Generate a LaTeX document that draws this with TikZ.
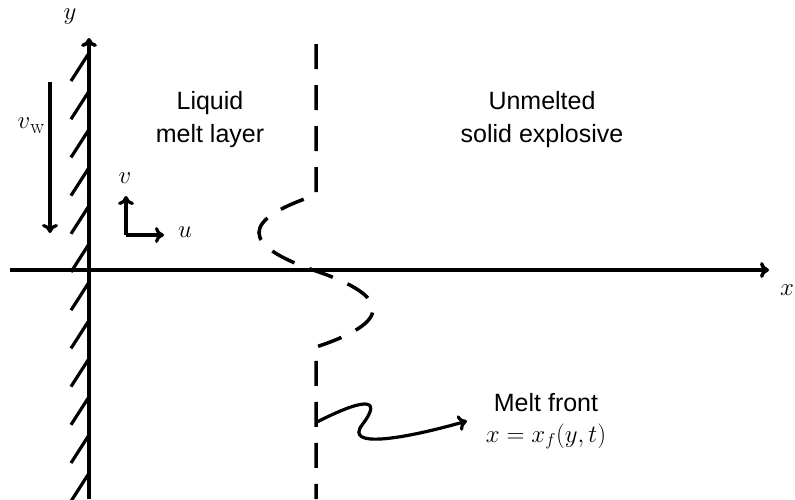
\documentclass[tikz,border=0pt]{standalone}
\usepackage[no-math]{fontspec}
\setmainfont{Liberation Sans}
\usetikzlibrary{arrows.meta}
\begin{document}
\begin{tikzpicture}[x=1pt,y=-1pt,
  arr/.style={line width=3.2pt,-{To[length=9pt,width=16pt]}},
  lbl/.style={font=\fontsize{25}{33}\selectfont,inner sep=0pt,align=center},
  mlbl/.style={font=\fontsize{25}{33}\selectfont,inner sep=0pt}]
\useasboundingbox (0,0) rectangle (795,499);
% coordinates
\coordinate (wallbot) at (89,499);
\coordinate (walltop) at (89,38);
\coordinate (xleft) at (10,270);
\coordinate (xright) at (769,270);
% hatching
\foreach \k in {0,...,11}
  \draw[line width=3.2pt] (89,53+38.2*\k) -- ++(-18,28);
% axes
\draw[arr,line width=3.5pt] (wallbot) -- (walltop);
\draw[arr,line width=3.5pt] (xleft) -- (xright);
\node[mlbl] (ylab) at (70,17) {$y$};
\node[mlbl] (xlab) at (787,290) {$x$};
% wall velocity
\coordinate (vwtop) at (50,82);
\coordinate (vwbot) at (50,233);
\draw[arr] (vwtop) -- (vwbot);
\node[mlbl] (vwlab) at (31,126) {$v$\raisebox{-5pt}{\fontsize{20}{20}\selectfont$\mathrm{w}$}};
% small u v axes
\coordinate (uvO) at (126,235);
\coordinate (vtip) at (126,196);
\coordinate (utip) at (164,235);
\draw[arr] (uvO) -- (vtip);
\draw[arr] (uvO) -- (utip);
\node[mlbl] (vlab) at (125,178) {$v$};
\node[mlbl] (ulab) at (185,232) {$u$};
% region labels
\node[lbl] (liquid) at (210,120) {Liquid\\melt layer};
\node[lbl] (solid) at (542,120) {Unmelted\\solid explosive};
% melt front (dashed)
\coordinate (mftop) at (316,44);
\coordinate (mfc1) at (316,195);
\coordinate (mfmid) at (316,271);
\coordinate (mfc2) at (316,347);
\coordinate (mfbot) at (316,499);
\draw[line width=3.5pt,dash pattern=on 25pt off 16pt]
  (mftop) -- (mfc1)
  .. controls (240,220) and (240,245) .. (mfmid)
  .. controls (392,297) and (392,322) .. (mfc2)
  -- (mfbot);
% melt front label
\node[lbl] (mflab) at (546,421) {Melt front\\[-2pt]$x=x_f(y,t)$};
\coordinate (wavestart) at (317,422);
\coordinate (waveend) at (467,421);
\draw[arr] (wavestart) .. controls (360,400) and (385,395) .. (362,425)
  .. controls (345,448) and (400,440) .. (waveend);
\end{tikzpicture}
\end{document}
